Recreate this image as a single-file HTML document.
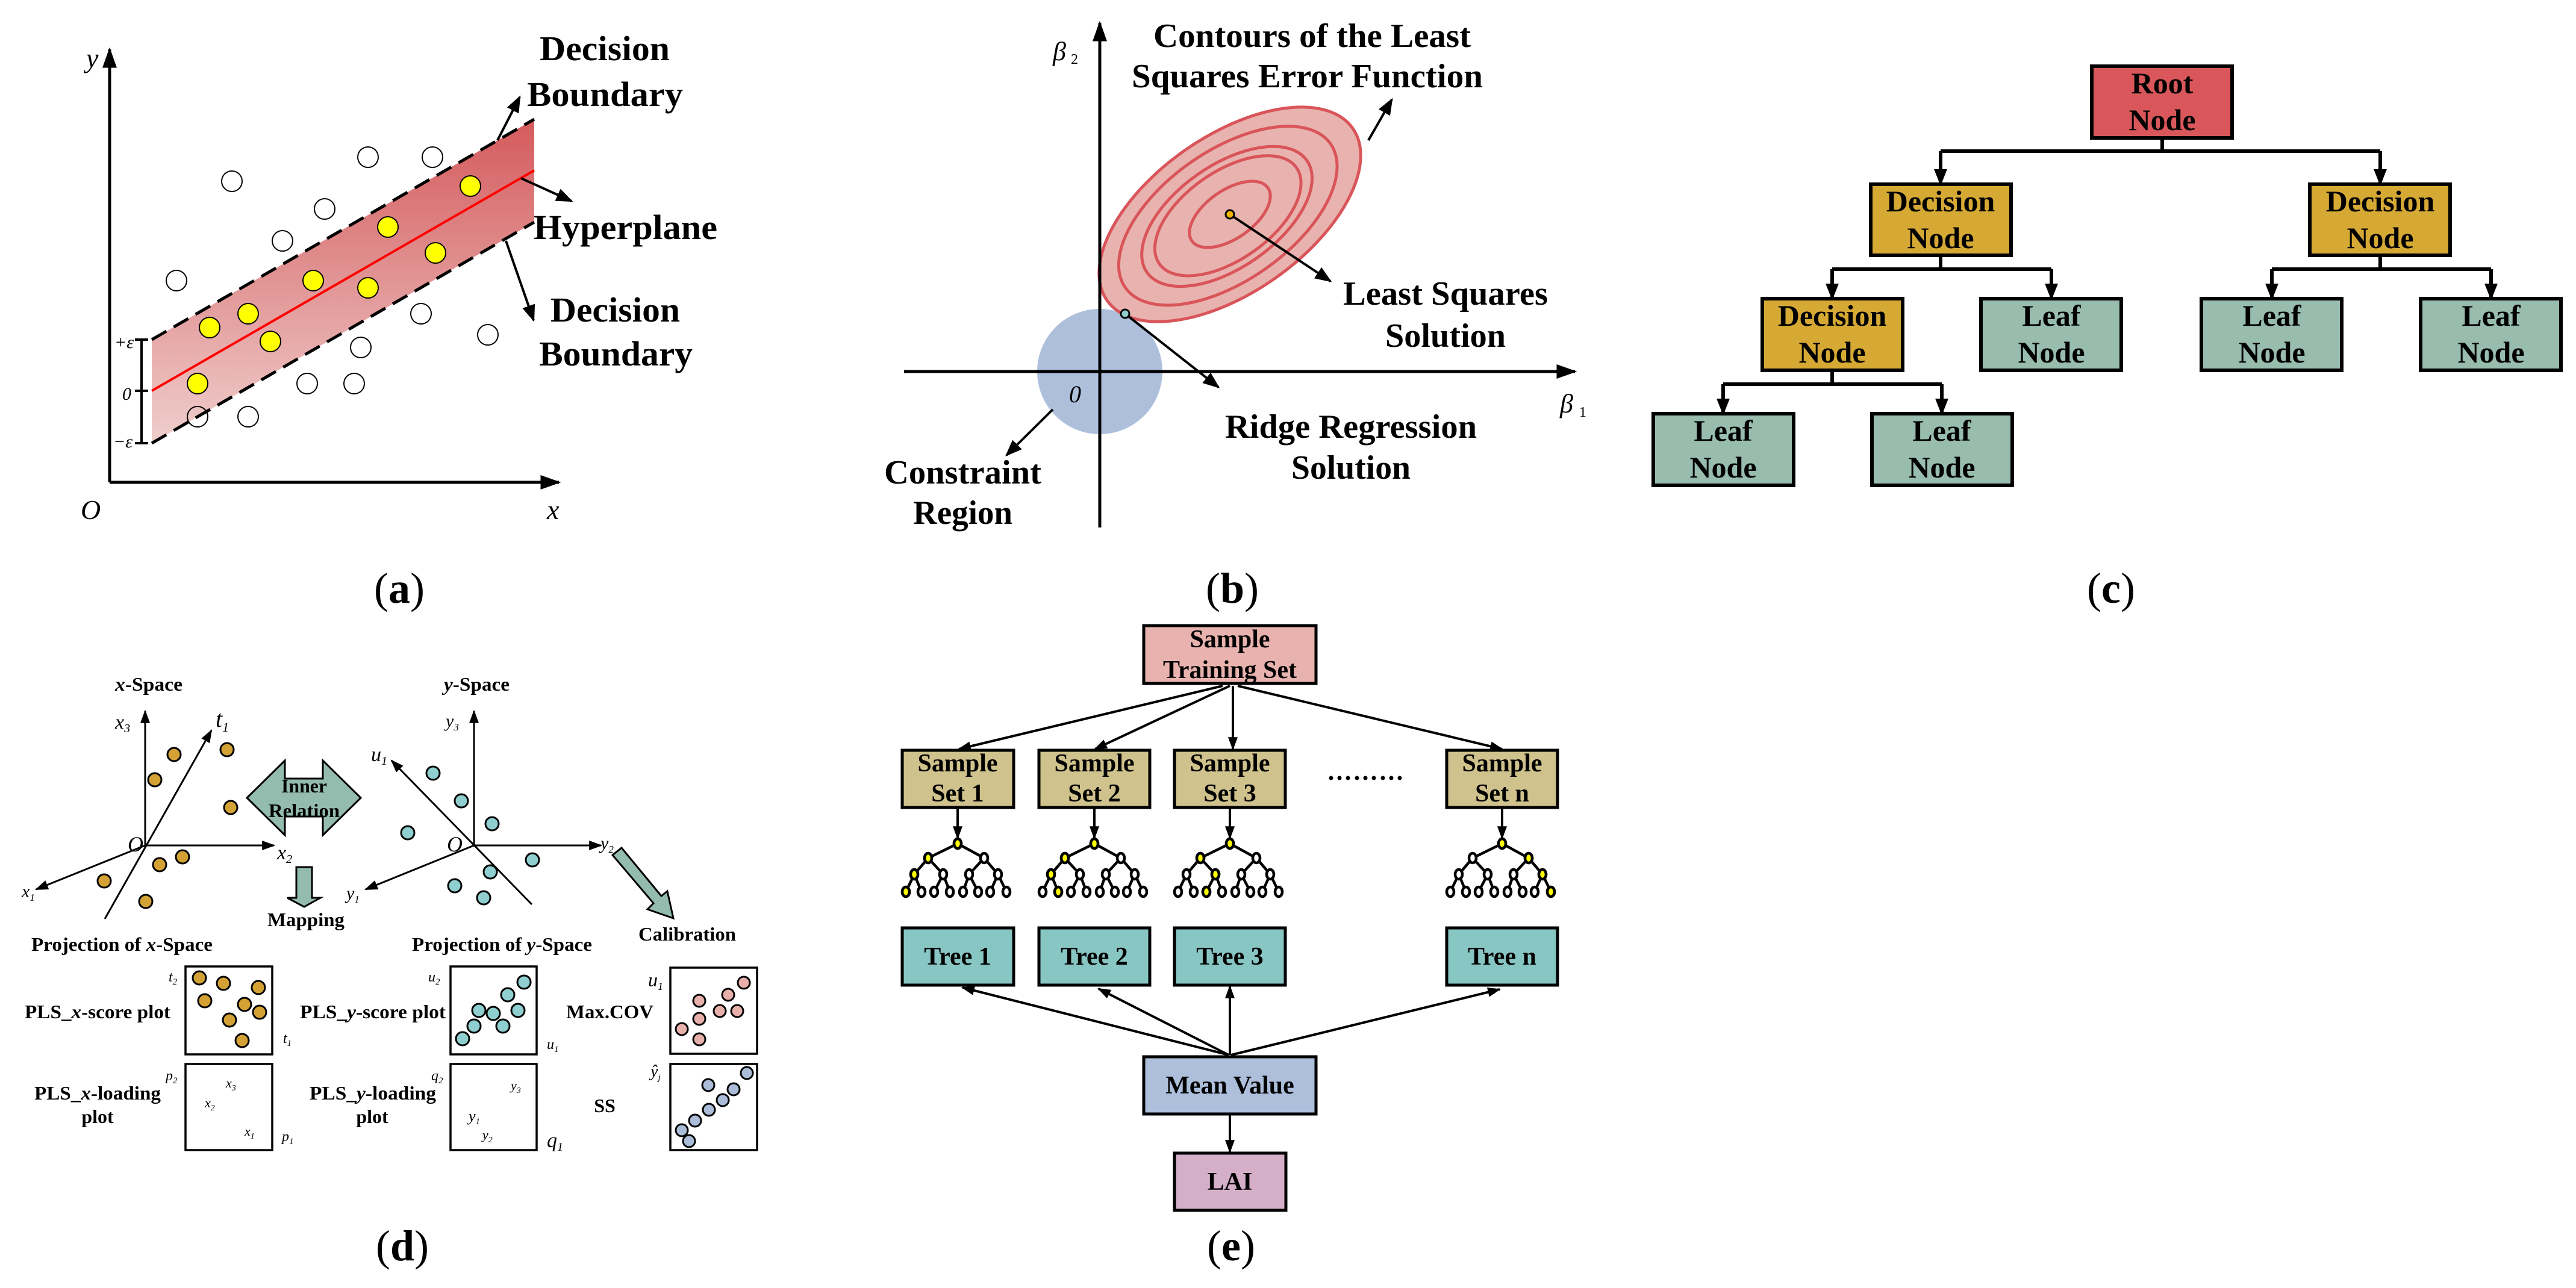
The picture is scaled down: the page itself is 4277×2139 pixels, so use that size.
<!DOCTYPE html>
<html><head><meta charset="utf-8"><style>
html,body{margin:0;padding:0;background:#fff}
svg{display:block}
text{font-family:"Liberation Serif",serif;fill:#000}
.b{font-weight:bold}
.i{font-style:italic}
</style></head><body>
<svg width="4277" height="2139" viewBox="0 0 4277 2139" xmlns="http://www.w3.org/2000/svg">
<defs>
<marker id="m1" viewBox="0 0 10 10" refX="9" refY="5" markerWidth="34" markerHeight="24" markerUnits="userSpaceOnUse" orient="auto" preserveAspectRatio="none"><path d="M0,0L10,5L0,10z"/></marker>
<marker id="m2" viewBox="0 0 10 10" refX="9" refY="5" markerWidth="28" markerHeight="22" markerUnits="userSpaceOnUse" orient="auto" preserveAspectRatio="none"><path d="M0,0L10,5L0,10z"/></marker>
<marker id="m3" viewBox="0 0 10 10" refX="9" refY="5" markerWidth="22" markerHeight="16" markerUnits="userSpaceOnUse" orient="auto" preserveAspectRatio="none"><path d="M0,0L10,5L0,10z"/></marker>
<linearGradient id="band" x1="0" y1="198" x2="0" y2="736" gradientUnits="userSpaceOnUse"><stop offset="0" stop-color="#d45a5c"/><stop offset="1" stop-color="#efcfcd"/></linearGradient>
<g id="mt" stroke="#000" stroke-width="4.5">
<path d="M0,0L-49,24M0,0L44,24M-49,24L-72,51M-49,24L-24,51M44,24L19,51M44,24L67,51M-72,51L-86,80M-72,51L-60,80M-24,51L-39,80M-24,51L-13,80M19,51L9,80M19,51L34,80M67,51L54,80M67,51L81,80" fill="none"/>
<g fill="#fff">
<ellipse cx="0" cy="0" rx="6" ry="8"/><ellipse cx="-49" cy="24" rx="6" ry="8"/><ellipse cx="44" cy="24" rx="6" ry="8"/>
<ellipse cx="-72" cy="51" rx="6" ry="8"/><ellipse cx="-24" cy="51" rx="6" ry="8"/><ellipse cx="19" cy="51" rx="6" ry="8"/><ellipse cx="67" cy="51" rx="6" ry="8"/>
<ellipse cx="-86" cy="80" rx="6" ry="8"/><ellipse cx="-60" cy="80" rx="6" ry="8"/><ellipse cx="-39" cy="80" rx="6" ry="8"/><ellipse cx="-13" cy="80" rx="6" ry="8"/>
<ellipse cx="9" cy="80" rx="6" ry="8"/><ellipse cx="34" cy="80" rx="6" ry="8"/><ellipse cx="54" cy="80" rx="6" ry="8"/><ellipse cx="81" cy="80" rx="6" ry="8"/>
</g></g>
</defs>

<!-- ============ Panel (a) ============ -->
<polygon points="252,564 887,198 887,369 252,736" fill="url(#band)"/>
<line x1="252" y1="564" x2="887" y2="198" stroke="#000" stroke-width="5" stroke-dasharray="28,14"/>
<line x1="252" y1="736" x2="887" y2="369" stroke="#000" stroke-width="5" stroke-dasharray="28,14"/>
<line x1="252" y1="649" x2="887" y2="283" stroke="#ff0000" stroke-width="4"/>
<g fill="none" stroke="#000" stroke-width="2">
<circle cx="385" cy="301" r="17"/><circle cx="611" cy="261" r="17"/><circle cx="718" cy="261" r="17"/><circle cx="539" cy="347" r="17"/><circle cx="469" cy="400" r="17"/><circle cx="293" cy="466" r="17"/><circle cx="699" cy="521" r="17"/><circle cx="810" cy="556" r="17"/><circle cx="599" cy="577" r="17"/><circle cx="510" cy="637" r="17"/><circle cx="588" cy="637" r="17"/><circle cx="328" cy="692" r="17"/><circle cx="412" cy="692" r="17"/>
</g>
<g fill="#ffff00" stroke="#000" stroke-width="2">
<circle cx="781" cy="309" r="17"/><circle cx="644" cy="377" r="17"/><circle cx="723" cy="420" r="17"/><circle cx="520" cy="466" r="17"/><circle cx="611" cy="478" r="17"/><circle cx="412" cy="521" r="17"/><circle cx="348" cy="544" r="17"/><circle cx="449" cy="567" r="17"/><circle cx="328" cy="637" r="17"/>
</g>
<line x1="182" y1="801" x2="182" y2="82" stroke="#000" stroke-width="5" marker-end="url(#m1)"/>
<line x1="182" y1="801" x2="928" y2="801" stroke="#000" stroke-width="5" marker-end="url(#m1)"/>
<path d="M235,564V736M224,564H246M224,649H246M224,736H246" stroke="#000" stroke-width="4" fill="none"/>
<text x="190" y="578" font-size="30" class="i">+ε</text>
<text x="203" y="664" font-size="30" class="i">0</text>
<text x="188" y="743" font-size="30" class="i">−ε</text>
<text x="143" y="112" font-size="46" class="i">y</text>
<text x="134" y="862" font-size="46" class="i">O</text>
<text x="908" y="862" font-size="46" class="i">x</text>
<line x1="826" y1="233" x2="863" y2="161" stroke="#000" stroke-width="4" marker-end="url(#m2)"/>
<line x1="865" y1="296" x2="949" y2="334" stroke="#000" stroke-width="4" marker-end="url(#m2)"/>
<line x1="840" y1="400" x2="886" y2="532" stroke="#000" stroke-width="4" marker-end="url(#m2)"/>
<g class="b" font-size="58">
<text x="896" y="100" textLength="216" lengthAdjust="spacingAndGlyphs">Decision</text>
<text x="875" y="176" textLength="259" lengthAdjust="spacingAndGlyphs">Boundary</text>
<text x="886" y="397" textLength="305" lengthAdjust="spacingAndGlyphs">Hyperplane</text>
<text x="914" y="534" textLength="215" lengthAdjust="spacingAndGlyphs">Decision</text>
<text x="895" y="607" textLength="255" lengthAdjust="spacingAndGlyphs">Boundary</text>
</g>

<!-- ============ Panel (b) ============ -->
<circle cx="1826" cy="617" r="104" fill="#adbfdb"/>
<g transform="translate(2042,356) rotate(-35)" fill="none" stroke="#d9555a" stroke-width="5">
<ellipse rx="249" ry="130" fill="#e8b3ae"/>
<ellipse cx="-4" rx="208" ry="108"/>
<ellipse cx="-6" rx="162" ry="85"/>
<ellipse cx="-4" rx="139" ry="73"/>
<ellipse rx="77" ry="40"/>
</g>
<line x1="1826" y1="876" x2="1826" y2="38" stroke="#000" stroke-width="5" marker-end="url(#m1)"/>
<line x1="1501" y1="617" x2="2615" y2="617" stroke="#000" stroke-width="5" marker-end="url(#m1)"/>
<line x1="2042" y1="356" x2="2209" y2="467" stroke="#000" stroke-width="4" marker-end="url(#m2)"/>
<line x1="1868" y1="521" x2="2023" y2="643" stroke="#000" stroke-width="4" marker-end="url(#m2)"/>
<line x1="2272" y1="233" x2="2311" y2="165" stroke="#000" stroke-width="4" marker-end="url(#m2)"/>
<line x1="1748" y1="680" x2="1671" y2="756" stroke="#000" stroke-width="4" marker-end="url(#m2)"/>
<circle cx="2042" cy="356" r="7" fill="#f0b400" stroke="#000" stroke-width="3"/>
<circle cx="1868" cy="521" r="7" fill="#8fcfcf" stroke="#000" stroke-width="3"/>
<text x="1748" y="100" font-size="44" class="i">β</text><text x="1778" y="106" font-size="24">2</text>
<text x="2590" y="685" font-size="44" class="i">β</text><text x="2622" y="692" font-size="24">1</text>
<text x="1775" y="668" font-size="40" class="i">0</text>
<g class="b" font-size="56">
<text x="1915" y="78" textLength="527" lengthAdjust="spacingAndGlyphs">Contours of the Least</text>
<text x="1879" y="145" textLength="583" lengthAdjust="spacingAndGlyphs">Squares Error Function</text>
<text x="2230" y="506" textLength="340" lengthAdjust="spacingAndGlyphs">Least Squares</text>
<text x="2300" y="576" textLength="200" lengthAdjust="spacingAndGlyphs">Solution</text>
<text x="2034" y="727" textLength="418" lengthAdjust="spacingAndGlyphs">Ridge Regression</text>
<text x="2144" y="795" textLength="198" lengthAdjust="spacingAndGlyphs">Solution</text>
<text x="1468" y="803" textLength="261" lengthAdjust="spacingAndGlyphs">Constraint</text>
<text x="1516" y="870" textLength="165" lengthAdjust="spacingAndGlyphs">Region</text>
</g>

<!-- ============ Panel (c) ============ -->
<g stroke="#000" stroke-width="6" fill="none">
<path d="M3590,229V251M3222,251H3952"/>
<path d="M3222,424V447M3042,447H3406"/>
<path d="M3952,424V447M3772,447H4136"/>
<path d="M3042,615V638M2861,638H3224"/>
</g>
<g stroke="#000" stroke-width="6" marker-end="url(#m2)">
<line x1="3222" y1="251" x2="3222" y2="306"/><line x1="3952" y1="251" x2="3952" y2="306"/>
<line x1="3042" y1="447" x2="3042" y2="496"/><line x1="3406" y1="447" x2="3406" y2="496"/>
<line x1="3772" y1="447" x2="3772" y2="496"/><line x1="4136" y1="447" x2="4136" y2="496"/>
<line x1="2861" y1="638" x2="2861" y2="687"/><line x1="3224" y1="638" x2="3224" y2="687"/>
</g>
<g stroke="#000" stroke-width="6">
<rect x="3473" y="110" width="233" height="119" fill="#d9575a"/>
<rect x="3106" y="306" width="233" height="118" fill="#d6a935"/>
<rect x="3835" y="306" width="233" height="118" fill="#d6a935"/>
<rect x="2926" y="496" width="233" height="119" fill="#d6a935"/>
<rect x="3289" y="496" width="233" height="119" fill="#98bcae"/>
<rect x="3655" y="496" width="233" height="119" fill="#98bcae"/>
<rect x="4019" y="496" width="233" height="119" fill="#98bcae"/>
<rect x="2745" y="687" width="233" height="119" fill="#98bcae"/>
<rect x="3108" y="687" width="233" height="119" fill="#98bcae"/>
</g>
<g class="b" font-size="50" text-anchor="middle">
<text x="3590" y="155">Root</text><text x="3590" y="216">Node</text>
<text x="3222" y="351">Decision</text><text x="3222" y="412">Node</text>
<text x="3952" y="351">Decision</text><text x="3952" y="412">Node</text>
<text x="3042" y="541">Decision</text><text x="3042" y="602">Node</text>
<text x="3406" y="541">Leaf</text><text x="3406" y="602">Node</text>
<text x="3772" y="541">Leaf</text><text x="3772" y="602">Node</text>
<text x="4136" y="541">Leaf</text><text x="4136" y="602">Node</text>
<text x="2861" y="732">Leaf</text><text x="2861" y="793">Node</text>
<text x="3224" y="732">Leaf</text><text x="3224" y="793">Node</text>
</g>

<!-- captions -->
<g font-size="72" text-anchor="middle">
<text x="663" y="1001">(<tspan class="b">a</tspan>)</text>
<text x="2046" y="1001">(<tspan class="b">b</tspan>)</text>
<text x="3505" y="1001">(<tspan class="b">c</tspan>)</text>
<text x="668" y="2093">(<tspan class="b">d</tspan>)</text>
<text x="2044" y="2093">(<tspan class="b">e</tspan>)</text>
</g>

<!-- ============ Panel (e) ============ -->
<g stroke="#000" stroke-width="4" marker-end="url(#m3)">
<line x1="2030" y1="1139" x2="1592" y2="1244"/>
<line x1="2042" y1="1139" x2="1818" y2="1244"/>
<line x1="2047" y1="1139" x2="2047" y2="1244"/>
<line x1="2055" y1="1139" x2="2494" y2="1244"/>
<line x1="1590" y1="1341" x2="1590" y2="1392"/>
<line x1="1817" y1="1341" x2="1817" y2="1392"/>
<line x1="2042" y1="1341" x2="2042" y2="1392"/>
<line x1="2494" y1="1341" x2="2494" y2="1392"/>
<line x1="2040" y1="1752" x2="1598" y2="1640"/>
<line x1="2040" y1="1752" x2="1824" y2="1642"/>
<line x1="2042" y1="1752" x2="2042" y2="1638"/>
<line x1="2044" y1="1752" x2="2490" y2="1643"/>
<line x1="2042" y1="1850" x2="2042" y2="1913"/>
</g>
<g stroke="#000" stroke-width="5">
<rect x="1899" y="1039" width="286" height="96" fill="#e8b3ae"/>
<rect x="1498" y="1246" width="185" height="95" fill="#cfc28c"/>
<rect x="1725" y="1246" width="184" height="95" fill="#cfc28c"/>
<rect x="1950" y="1246" width="184" height="95" fill="#cfc28c"/>
<rect x="2402" y="1246" width="184" height="95" fill="#cfc28c"/>
<rect x="1498" y="1541" width="185" height="95" fill="#88c6c4"/>
<rect x="1725" y="1541" width="184" height="95" fill="#88c6c4"/>
<rect x="1950" y="1541" width="184" height="95" fill="#88c6c4"/>
<rect x="2402" y="1541" width="184" height="95" fill="#88c6c4"/>
<rect x="1899" y="1755" width="286" height="95" fill="#adbfdb"/>
<rect x="1950" y="1915" width="185" height="95" fill="#d5aec8"/>
</g>
<g fill="#000"><circle cx="2210" cy="1292" r="3.5"/><circle cx="2224" cy="1292" r="3.5"/><circle cx="2238" cy="1292" r="3.5"/><circle cx="2253" cy="1292" r="3.5"/><circle cx="2267" cy="1292" r="3.5"/><circle cx="2281" cy="1292" r="3.5"/><circle cx="2296" cy="1292" r="3.5"/><circle cx="2310" cy="1292" r="3.5"/><circle cx="2324" cy="1292" r="3.5"/></g>
<use href="#mt" x="1590" y="1401"/>
<use href="#mt" x="1817" y="1401"/>
<use href="#mt" x="2042" y="1401"/>
<use href="#mt" x="2494" y="1401"/>
<g fill="#ffff00" stroke="#000" stroke-width="4.5">
<ellipse cx="1590" cy="1401" rx="6" ry="8"/><ellipse cx="1541" cy="1425" rx="6" ry="8"/><ellipse cx="1518" cy="1452" rx="6" ry="8"/><ellipse cx="1504" cy="1481" rx="6" ry="8"/>
<ellipse cx="1817" cy="1401" rx="6" ry="8"/><ellipse cx="1768" cy="1425" rx="6" ry="8"/><ellipse cx="1745" cy="1452" rx="6" ry="8"/><ellipse cx="1757" cy="1481" rx="6" ry="8"/>
<ellipse cx="2042" cy="1401" rx="6" ry="8"/><ellipse cx="1993" cy="1425" rx="6" ry="8"/><ellipse cx="2018" cy="1452" rx="6" ry="8"/><ellipse cx="2003" cy="1481" rx="6" ry="8"/>
<ellipse cx="2494" cy="1401" rx="6" ry="8"/><ellipse cx="2538" cy="1425" rx="6" ry="8"/><ellipse cx="2561" cy="1452" rx="6" ry="8"/><ellipse cx="2575" cy="1481" rx="6" ry="8"/>
</g>
<g class="b" font-size="42" text-anchor="middle">
<text x="2042" y="1075">Sample</text><text x="2042" y="1126">Training Set</text>
<text x="1590" y="1281">Sample</text><text x="1590" y="1331">Set 1</text>
<text x="1817" y="1281">Sample</text><text x="1817" y="1331">Set 2</text>
<text x="2042" y="1281">Sample</text><text x="2042" y="1331">Set 3</text>
<text x="2494" y="1281">Sample</text><text x="2494" y="1331">Set n</text>
<text x="1590" y="1602">Tree 1</text><text x="1817" y="1602">Tree 2</text><text x="2042" y="1602">Tree 3</text><text x="2494" y="1602">Tree n</text>
<text x="2042" y="1816">Mean Value</text>
<text x="2042" y="1976">LAI</text>
</g>

<!-- ============ Panel (d) ============ -->
<g stroke="#000" stroke-width="3" marker-end="url(#m3)">
<line x1="241" y1="1404" x2="241" y2="1181"/>
<line x1="241" y1="1404" x2="455" y2="1404"/>
<line x1="241" y1="1404" x2="60" y2="1477"/>
<line x1="174" y1="1526" x2="351" y2="1213"/>
<line x1="787" y1="1404" x2="787" y2="1181"/>
<line x1="787" y1="1404" x2="998" y2="1404"/>
<line x1="787" y1="1404" x2="607" y2="1477"/>
<line x1="883" y1="1502" x2="650" y2="1263"/>
</g>
<g fill="#d4a234" stroke="#000" stroke-width="3">
<circle cx="289" cy="1253" r="11"/><circle cx="257" cy="1295" r="11"/><circle cx="377" cy="1245" r="11"/><circle cx="383" cy="1341" r="11"/><circle cx="303" cy="1423" r="11"/><circle cx="265" cy="1436" r="11"/><circle cx="173" cy="1463" r="11"/><circle cx="242" cy="1497" r="11"/>
<circle cx="331" cy="1624" r="11"/><circle cx="371" cy="1633" r="11"/><circle cx="429" cy="1640" r="11"/><circle cx="340" cy="1662" r="11"/><circle cx="406" cy="1668" r="11"/><circle cx="431" cy="1681" r="11"/><circle cx="381" cy="1694" r="11"/><circle cx="402" cy="1728" r="11"/>
</g>
<g fill="#8fcfcf" stroke="#000" stroke-width="3">
<circle cx="719" cy="1284" r="11"/><circle cx="766" cy="1330" r="11"/><circle cx="817" cy="1368" r="11"/><circle cx="677" cy="1383" r="11"/><circle cx="884" cy="1428" r="11"/><circle cx="814" cy="1448" r="11"/><circle cx="755" cy="1471" r="11"/><circle cx="803" cy="1491" r="11"/>
<circle cx="870" cy="1631" r="11"/><circle cx="843" cy="1652" r="11"/><circle cx="795" cy="1678" r="11"/><circle cx="819" cy="1683" r="11"/><circle cx="860" cy="1678" r="11"/><circle cx="787" cy="1704" r="11"/><circle cx="835" cy="1704" r="11"/><circle cx="768" cy="1725" r="11"/>
</g>
<polygon points="410,1325 473,1263 473,1293 536,1293 536,1263 599,1325 536,1387 536,1356 473,1356 473,1387" fill="#94bcae" stroke="#000" stroke-width="3"/>
<polygon points="492,1440 518,1440 518,1491 532,1491 505,1506 477,1491 492,1491" fill="#94bcae" stroke="#000" stroke-width="3"/>
<polygon points="1017,1420 1032,1408 1098,1488 1108,1480 1118,1525 1075,1510 1085,1500" fill="#94bcae" stroke="#000" stroke-width="3"/>
<g fill="none" stroke="#000" stroke-width="3.5">
<rect x="308" y="1605" width="144" height="146"/>
<rect x="308" y="1767" width="144" height="143"/>
<rect x="748" y="1605" width="143" height="146"/>
<rect x="748" y="1767" width="143" height="143"/>
<rect x="1113" y="1607" width="144" height="143"/>
<rect x="1113" y="1767" width="144" height="143"/>
</g>
<g fill="#e8b0ab" stroke="#000" stroke-width="3">
<circle cx="1235" cy="1632" r="10"/><circle cx="1209" cy="1652" r="10"/><circle cx="1161" cy="1662" r="10"/><circle cx="1195" cy="1679" r="10"/><circle cx="1224" cy="1679" r="10"/><circle cx="1161" cy="1692" r="10"/><circle cx="1132" cy="1709" r="10"/><circle cx="1161" cy="1726" r="10"/>
</g>
<g fill="#aabcd8" stroke="#000" stroke-width="3">
<circle cx="1240" cy="1782" r="10"/><circle cx="1176" cy="1802" r="10"/><circle cx="1218" cy="1809" r="10"/><circle cx="1200" cy="1827" r="10"/><circle cx="1177" cy="1843" r="10"/><circle cx="1154" cy="1861" r="10"/><circle cx="1132" cy="1877" r="10"/><circle cx="1144" cy="1895" r="10"/>
</g>
<g class="i">
<text x="191" y="1210" font-size="34">x<tspan font-size="20" dy="6">3</tspan></text>
<text x="358" y="1207" font-size="40">t<tspan font-size="22" dy="8">1</tspan></text>
<text x="212" y="1414" font-size="36">O</text>
<text x="460" y="1427" font-size="34">x<tspan font-size="20" dy="6">2</tspan></text>
<text x="36" y="1490" font-size="30">x<tspan font-size="17" dy="6">1</tspan></text>
<text x="740" y="1207" font-size="30">y<tspan font-size="17" dy="6">3</tspan></text>
<text x="616" y="1264" font-size="34">u<tspan font-size="20" dy="6">1</tspan></text>
<text x="742" y="1414" font-size="36">O</text>
<text x="997" y="1410" font-size="30">y<tspan font-size="17" dy="6">2</tspan></text>
<text x="575" y="1493" font-size="30">y<tspan font-size="17" dy="6">1</tspan></text>
<text x="280" y="1630" font-size="24">t<tspan font-size="15" dy="5">2</tspan></text>
<text x="470" y="1732" font-size="24">t<tspan font-size="15" dy="5">1</tspan></text>
<text x="275" y="1794" font-size="24">p<tspan font-size="15" dy="5">2</tspan></text>
<text x="468" y="1895" font-size="24">p<tspan font-size="15" dy="5">1</tspan></text>
<text x="375" y="1806" font-size="22">x<tspan font-size="14" dy="5">3</tspan></text>
<text x="340" y="1839" font-size="22">x<tspan font-size="14" dy="5">2</tspan></text>
<text x="406" y="1886" font-size="22">x<tspan font-size="14" dy="5">1</tspan></text>
<text x="711" y="1630" font-size="24">u<tspan font-size="15" dy="5">2</tspan></text>
<text x="908" y="1742" font-size="24">u<tspan font-size="15" dy="5">1</tspan></text>
<text x="716" y="1794" font-size="24">q<tspan font-size="15" dy="5">2</tspan></text>
<text x="908" y="1905" font-size="34">q<tspan font-size="20" dy="6">1</tspan></text>
<text x="848" y="1810" font-size="22">y<tspan font-size="14" dy="5">3</tspan></text>
<text x="778" y="1862" font-size="26">y<tspan font-size="15" dy="5">1</tspan></text>
<text x="801" y="1892" font-size="22">y<tspan font-size="14" dy="5">2</tspan></text>
<text x="1076" y="1638" font-size="32">u<tspan font-size="18" dy="6">1</tspan></text>
<text x="1080" y="1788" font-size="28">ŷ<tspan font-size="15" dy="6">j</tspan></text>
</g>
<g class="b" font-size="32">
<text x="191" y="1147" textLength="112" lengthAdjust="spacingAndGlyphs"><tspan class="i">x</tspan>-Space</text>
<text x="737" y="1147" textLength="109" lengthAdjust="spacingAndGlyphs"><tspan class="i">y</tspan>-Space</text>
<text x="505" y="1316" font-size="32" text-anchor="middle" textLength="76" lengthAdjust="spacingAndGlyphs">Inner</text>
<text x="505" y="1357" font-size="32" text-anchor="middle" textLength="118" lengthAdjust="spacingAndGlyphs">Relation</text>
<text x="508" y="1538" text-anchor="middle" textLength="128" lengthAdjust="spacingAndGlyphs">Mapping</text>
<text x="1141" y="1562" text-anchor="middle" textLength="162" lengthAdjust="spacingAndGlyphs">Calibration</text>
<text x="52" y="1579" textLength="301" lengthAdjust="spacingAndGlyphs">Projection of <tspan class="i">x</tspan>-Space</text>
<text x="684" y="1579" textLength="299" lengthAdjust="spacingAndGlyphs">Projection of <tspan class="i">y</tspan>-Space</text>
<text x="41" y="1691" textLength="242" lengthAdjust="spacingAndGlyphs">PLS_<tspan class="i">x</tspan>-score plot</text>
<text x="57" y="1826" textLength="210" lengthAdjust="spacingAndGlyphs">PLS_<tspan class="i">x</tspan>-loading</text>
<text x="162" y="1865" text-anchor="middle">plot</text>
<text x="498" y="1691" textLength="242" lengthAdjust="spacingAndGlyphs">PLS_<tspan class="i">y</tspan>-score plot</text>
<text x="514" y="1826" textLength="210" lengthAdjust="spacingAndGlyphs">PLS_<tspan class="i">y</tspan>-loading</text>
<text x="618" y="1865" text-anchor="middle">plot</text>
<text x="940" y="1691" textLength="145" lengthAdjust="spacingAndGlyphs">Max.COV</text>
<text x="1004" y="1847" text-anchor="middle">SS</text>
</g>
</svg>
</body></html>
